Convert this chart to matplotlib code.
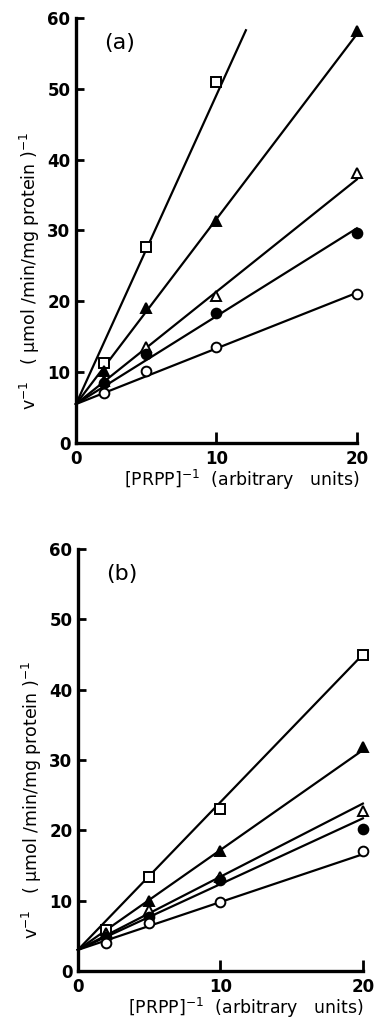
import matplotlib
matplotlib.use("Agg")
import matplotlib.pyplot as plt
import numpy as np

# ---- data ----
x_vals = [2, 5, 10, 20]
series_names = ["open_square", "filled_triangle", "open_triangle", "filled_circle", "open_circle"]
marker_styles = ["s", "^", "^", "o", "o"]
marker_filled = [False, True, False, True, False]

# panel (a)
a_open_square = [11.3, 27.7, 51.0]
a_filled_triangle = [10.1, 19.0, 31.3, 58.2]
a_open_triangle = [8.8, 13.5, 20.8, 38.1]
a_filled_circle = [8.5, 12.6, 18.3, 29.6]
a_open_circle = [7.1, 10.2, 13.5, 21.1]
a_intercepts = [5.5, 5.5, 5.5, 5.5, 5.5]
a_slopes = [4.36, 2.61, 1.585, 1.24, 0.785]
a_line_xend = [12.1, 20, 20, 20, 20]

# panel (b)
b_open_square = [5.8, 13.3, 23.0, 44.9]
b_filled_triangle = [5.4, 9.9, 17.1, 31.8]
b_open_triangle = [5.2, 8.7, 13.4, 22.8]
b_filled_circle = [4.8, 7.7, 12.9, 20.2]
b_open_circle = [4.0, 6.8, 9.8, 17.0]
b_intercepts = [3.0, 3.0, 3.0, 3.0, 3.0]
b_slopes = [2.1, 1.42, 1.04, 0.935, 0.68]
b_line_xend = [20, 20, 20, 20, 20]

x_ticks = [0, 10, 20]
y_ticks = [0, 10, 20, 30, 40, 50, 60]
xlabel = "[PRPP]$^{-1}$  (arbitrary   units)"
ylabel = "v$^{-1}$   ( μmol /min/mg protein )$^{-1}$"

plt.rcParams['font.family'] = ['DejaVu Sans']
plt.rcParams['mathtext.default'] = 'regular'

fig = plt.figure(figsize=(3.78, 10.22), dpi=100)

panels = [
    ("(a)", [0.201, 0.5665, 0.743, 0.416],
     [a_open_square, a_filled_triangle, a_open_triangle, a_filled_circle, a_open_circle],
     a_intercepts, a_slopes, a_line_xend),
    ("(b)", [0.206, 0.0499, 0.754, 0.413],
     [b_open_square, b_filled_triangle, b_open_triangle, b_filled_circle, b_open_circle],
     b_intercepts, b_slopes, b_line_xend),
]

for label, rect, data, icpts, slopes, xends in panels:
    ax = fig.add_axes(rect)
    for yv, m, filled, b0, s, xe in zip(data, marker_styles, marker_filled, icpts, slopes, xends):
        xl = np.array([0, xe])
        ax.plot(xl, b0 + s * xl, color="black", lw=1.6, clip_on=False, zorder=2)
        xs = x_vals[:len(yv)]
        ax.plot(xs, yv, linestyle="none", marker=m, markersize=7 if m != "s" else 6.5,
                markerfacecolor="black" if filled else "white",
                markeredgecolor="black", markeredgewidth=1.4, clip_on=False, zorder=3)
    ax.set_xlim(0, 20)
    ax.set_ylim(0, 60)
    ax.set_xticks(x_ticks)
    ax.set_yticks(y_ticks)
    for sp in ["top", "right"]:
        ax.spines[sp].set_visible(False)
    for sp in ["left", "bottom"]:
        ax.spines[sp].set_linewidth(2.4)
    ax.tick_params(axis="y", direction="in", length=6, width=2.0, pad=4, labelsize=12)
    ax.tick_params(axis="x", direction="in", length=8, width=2.0, pad=5, labelsize=12)
    for t in ax.get_xticklabels() + ax.get_yticklabels():
        t.set_fontweight("bold")
    ax.set_xlabel(xlabel, fontsize=12.5, labelpad=0, x=0.59)
    ax.set_ylabel(ylabel, fontsize=12.5, labelpad=4, y=0.405)
    ax.text(3.1, 56.5, label, fontsize=16, ha="center", va="center")

fig.savefig("out.png", dpi=100)
